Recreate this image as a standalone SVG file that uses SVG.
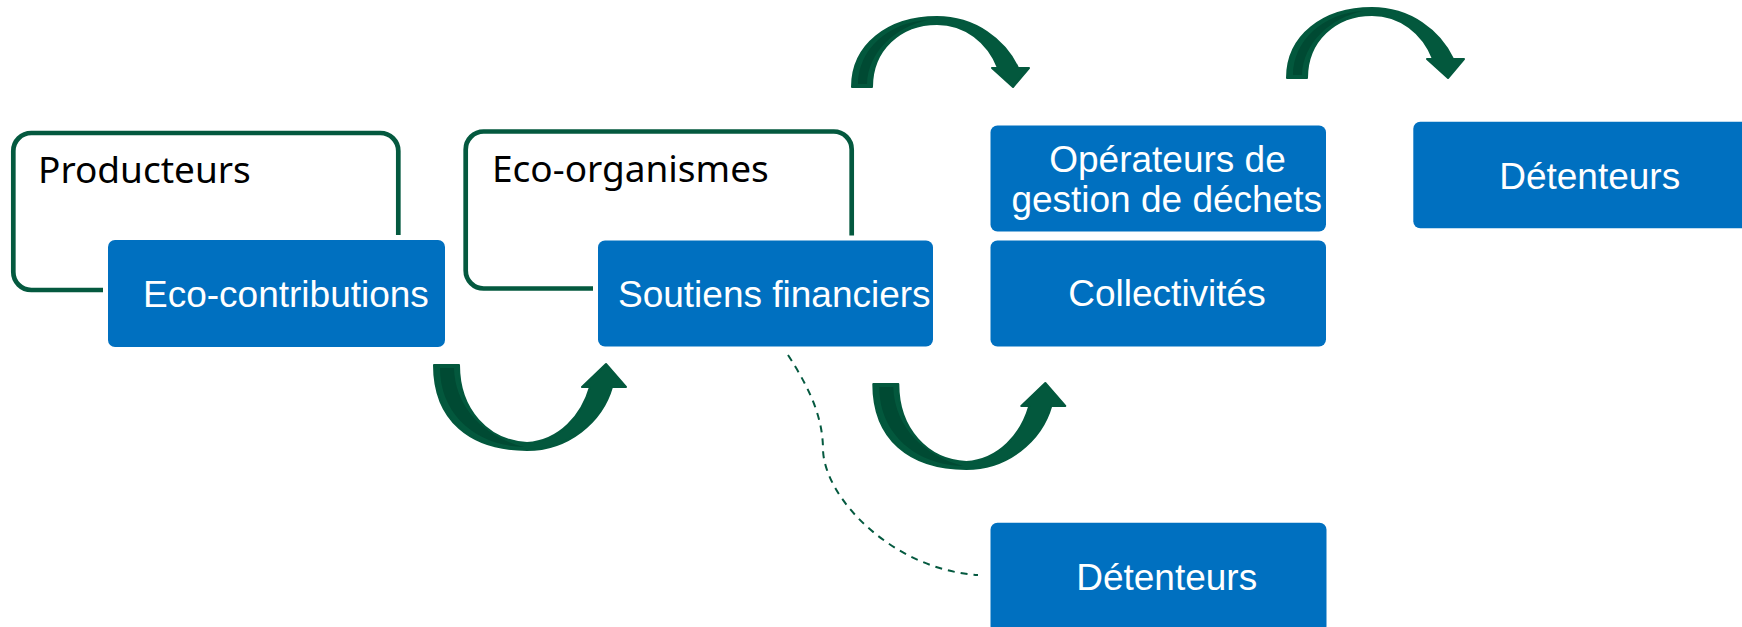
<svg xmlns="http://www.w3.org/2000/svg" xmlns:xlink="http://www.w3.org/1999/xlink" width="1742" height="627" viewBox="0 0 1742 627">
  <style>
    .outline { fill: none; stroke: #04593F; stroke-width: 4.7; }
    .blue { fill: #0070C0; stroke: #ffffff; stroke-width: 10; paint-order: stroke; }
    .blue-plain { fill: #0070C0; }
    .lbl { font-family: "Liberation Sans", Arial, sans-serif; font-size: 37px; fill: #ffffff; }
    .title { font-family: "Noto Sans", "Liberation Sans", sans-serif; font-size: 37px; fill: #000000; }
    .arrow { fill: #03583D; stroke: #03583D; stroke-width: 2; stroke-linejoin: round; }
    .shade { fill: #004A33; }
    .dash { fill: none; stroke: #04593F; stroke-width: 2; stroke-dasharray: 7 6; }
  </style>
  <defs>
    <g id="arrowUp">
      <path class="arrow" d="M434,365 C434,420 470,450 527,450 C568,450 602,422 612,387 L626,387 L606,364 L582,387 L590,387 C582,415 560,441 527,443 C488,441 459,410 459,365 Z"/>
      <path class="shade" d="M440,368 C440,416 478,446 524,447 C488,438 455,410 454,368 Z"/>
    </g>
    <g id="arrowDown">
      <path class="arrow" d="M852,87 C852,45 888,17 937,17 C975,17 1005,40 1018,68 L1029,68 L1013,87 L992,68 L998,68 C988,42 965,24 937,24 C900,24 872,50 872,87 Z"/>
      <path class="shade" d="M858,84 C858,50 888,22 928,20 C895,27 868,52 867,84 Z"/>
    </g>
  </defs>

  <rect width="1742" height="627" fill="#ffffff"/>

  <g id="producteurs">
    <rect class="outline" x="13.3" y="133" width="385" height="157" rx="18"/>
    <text class="title" x="38" y="183">Producteurs</text>
  </g>

  <g id="eco-organismes">
    <rect class="outline" x="465.7" y="131.5" width="386" height="157" rx="18"/>
    <text class="title" x="492" y="181.7">Eco-organismes</text>
  </g>

  <g id="eco-contributions">
    <rect class="blue" x="108" y="240" width="337" height="107" rx="7"/>
    <text class="lbl" x="143" y="307">Eco-contributions</text>
  </g>

  <g id="soutiens-financiers">
    <rect class="blue" x="598" y="240.5" width="335" height="106" rx="7"/>
    <text class="lbl" x="618" y="306.7">Soutiens financiers</text>
  </g>

  <g id="operateurs">
    <rect class="blue-plain" x="990.5" y="125.5" width="335.5" height="106" rx="7"/>
    <text class="lbl" x="1167.5" y="171.7" text-anchor="middle">Opérateurs de</text>
    <text class="lbl" x="1166.7" y="211.7" text-anchor="middle">gestion de déchets</text>
  </g>

  <g id="collectivites">
    <rect class="blue-plain" x="990.5" y="240.5" width="335.5" height="106" rx="7"/>
    <text class="lbl" x="1167" y="306" text-anchor="middle">Collectivités</text>
  </g>

  <g id="detenteurs-haut">
    <rect class="blue-plain" x="1413.3" y="121.7" width="345" height="106.6" rx="7"/>
    <text class="lbl" x="1589.7" y="189.3" text-anchor="middle">Détenteurs</text>
  </g>

  <g id="detenteurs-bas">
    <rect class="blue-plain" x="990.5" y="522.7" width="336" height="110" rx="7"/>
    <text class="lbl" x="1166.7" y="590" text-anchor="middle">Détenteurs</text>
  </g>

  <g id="connectors">
    <use xlink:href="#arrowUp"/>
    <use xlink:href="#arrowUp" transform="translate(439.3,19)"/>
    <use xlink:href="#arrowDown"/>
    <use xlink:href="#arrowDown" transform="translate(435,-9)"/>
    <path class="dash" d="M788,355 C812,392 823,420 823,450 C825,500 895,570 978,575"/>
  </g>
</svg>
